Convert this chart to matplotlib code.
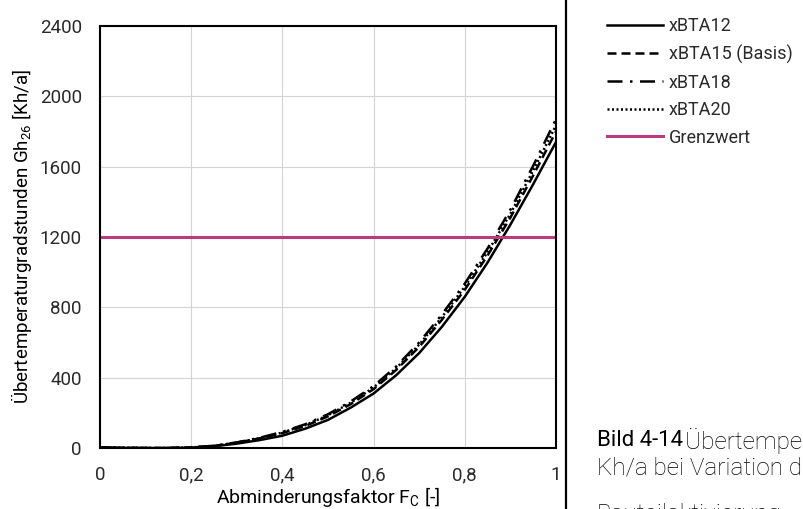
import numpy as np
import matplotlib.pyplot as plt

plt.rcParams['font.family'] = ['Roboto', 'DejaVu Sans']

# --- Daten ---
fc = [0.0, 0.05, 0.1, 0.15, 0.2, 0.25, 0.3, 0.35, 0.4, 0.45, 0.5,
      0.55, 0.6, 0.65, 0.7, 0.75, 0.8, 0.85, 0.9, 0.95, 1.0]
xbta12 = [3, 1, 0, 0, 2, 10, 25, 45, 70, 110, 160,
          230, 310, 415, 540, 690, 860, 1055, 1270, 1500, 1740]
xbta15 = [3, 1, 0, 0, 3, 12, 30, 55, 85, 125, 180,
          250, 335, 445, 575, 730, 900, 1095, 1310, 1550, 1800]
xbta18 = [3, 1, 0, 0, 3, 13, 32, 58, 92, 135, 192,
          265, 352, 465, 600, 760, 935, 1135, 1355, 1605, 1870]
xbta20 = [3, 1, 0, 0, 3, 12, 31, 56, 88, 130, 186,
          258, 344, 455, 588, 745, 918, 1115, 1332, 1578, 1835]
grenzwert = 1200

fig = plt.figure(figsize=(8.04, 5.09), dpi=100)
ax = fig.add_axes([0.1244, 0.1198, 0.5671, 0.8291])

lw = 1.8
ax.plot(fc, xbta12, color='black', lw=lw, ls='-', label='xBTA12')
ax.plot(fc, xbta15, color='black', lw=lw, ls=(0, (3.6, 2)), label='xBTA15 (Basis)')
ax.plot(fc, xbta18, color='black', lw=lw, ls=(0, (6, 3, 1, 3)), label='xBTA18')
ax.plot(fc, xbta20, color='black', lw=lw, ls=(0, (0.8, 1.0)), label='xBTA20')
ax.axhline(grenzwert, color='#B83C7E', lw=2.2, label='Grenzwert')

ax.set_xlim(0, 1)
ax.set_ylim(0, 2400)
ax.set_xticks(np.arange(0, 1.01, 0.2))
ax.set_xticklabels(['0', '0,2', '0,4', '0,6', '0,8', '1'])
ax.set_yticks(np.arange(0, 2401, 400))
ax.grid(True, color='#d4d4d4', lw=0.8)
ax.set_axisbelow(True)
for s in ax.spines.values():
    s.set_linewidth(1.5)
ax.tick_params(length=0, labelsize=13.5, pad=13, colors='#2a2a2a')

ax.set_xlabel('Abminderungsfaktor F$_\\mathregular{C}$ [-]', fontsize=14, labelpad=1)
ax.set_ylabel('Übertemperaturgradstunden Gh$_\\mathregular{26}$ [Kh/a]', fontsize=13.5,
              labelpad=4)

# Legende
leg = fig.legend(loc='upper left', bbox_to_anchor=(0.735, 0.998), frameon=False,
                 fontsize=13, handlelength=3.1, handletextpad=0.3, labelspacing=0.53)
for t in leg.get_texts():
    t.set_color('#2a2a2a')

# Trennlinie und Bildunterschrift
fig.add_artist(plt.Line2D([566 / 804, 566 / 804], [0, 1], color='black', lw=1.6,
                          transform=fig.transFigure))
fig.text(597 / 804, 1 - 441 / 509, 'Bild 4-14', fontsize=16, va='center')
fig.text(685 / 804, 1 - 441 / 509, 'Übertemperaturgradstunden Gh26 in', fontsize=17.5,
         va='center', fontweight='light')
fig.text(597 / 804, 1 - 468 / 509, 'Kh/a bei Variation der', fontsize=17.5, va='center',
         fontweight='light')
fig.text(597 / 804, 1 - 515 / 509, 'Bauteilaktivierung', fontsize=17.5, va='center',
         fontweight='light')

fig.savefig('out.png', dpi=100)
